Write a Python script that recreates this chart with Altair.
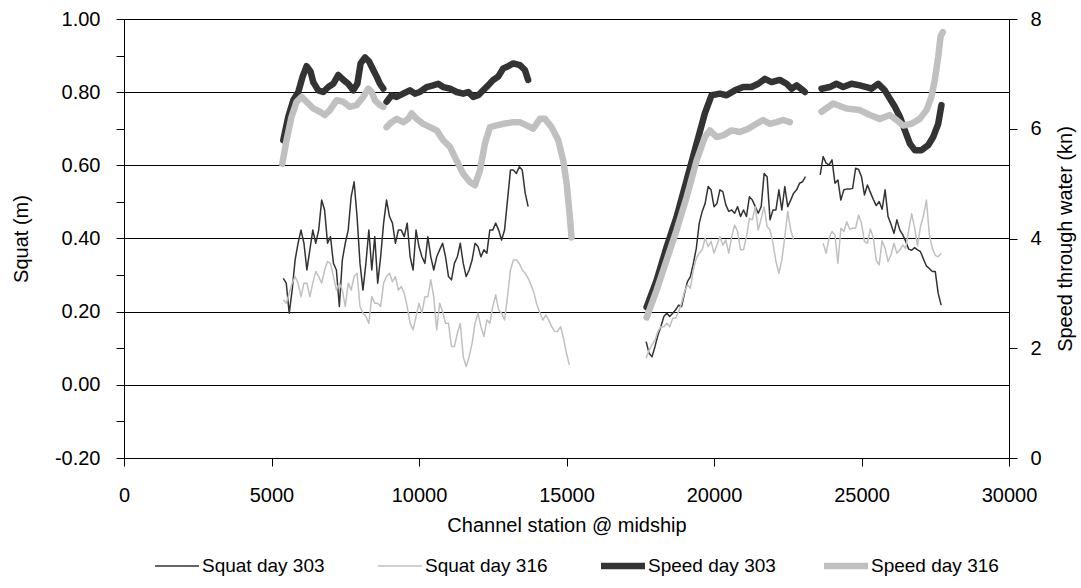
import altair as alt
import pandas as pd

FONT = "Liberation Sans"
SERIES = ["Squat day 303", "Squat day 316", "Speed day 303", "Speed day 316"]
COLORS = ["#333333", "#c0c0c0", "#333333", "#c0c0c0"]

X_TICKS = [0, 5000, 10000, 15000, 20000, 25000, 30000]
Y_TICKS = [-0.2, -0.1, 0.0, 0.1, 0.2, 0.3, 0.4, 0.5, 0.6, 0.7, 0.8, 0.9, 1.0]
SPEED_TICKS = [0, 2, 4, 6, 8]

# ---- channel stations (m) where squat was sampled ----
ST_A = [5400, 5500, 5600, 5700, 5800, 5900, 6000, 6100, 6200, 6300, 6400, 6500, 6600, 6700,
        6800, 6900, 7000, 7100, 7200, 7300, 7400, 7500, 7600, 7700, 7800, 7900, 8000, 8100,
        8200, 8300, 8400, 8500, 8600, 8700, 8800, 8900, 9000, 9100, 9200, 9300, 9400, 9500,
        9600, 9700, 9800, 9900, 10000, 10100, 10200, 10300, 10400, 10500, 10600, 10700, 10800,
        10900, 11000, 11100, 11200, 11300, 11400, 11500, 11600, 11700, 11800, 11900, 12000,
        12100, 12200, 12300, 12400, 12500, 12600, 12700, 12800, 12900, 13000, 13100, 13200,
        13300, 13400, 13500, 13600, 13700, 13800, 13900, 14000, 14100, 14200, 14300, 14400,
        14500, 14600, 14700, 14800, 14900, 15000, 15100]
ST_B = [17700, 17800, 17900, 18000, 18100, 18200, 18300, 18400, 18500, 18600, 18700, 18800,
        18900, 19000, 19100, 19200, 19300, 19400, 19500, 19600, 19700, 19800, 19900, 20000,
        20100, 20200, 20300, 20400, 20500, 20600, 20700, 20800, 20900, 21000, 21100, 21200,
        21300, 21400, 21500, 21600, 21700, 21800, 21900, 22000, 22100, 22200, 22300, 22400,
        22500, 22600, 22700, 22800, 22900, 23000, 23100]
ST_C = [23600, 23700, 23800, 23900, 24000, 24100, 24200, 24300, 24400, 24500, 24600, 24700,
        24800, 24900, 25000, 25100, 25200, 25300, 25400, 25500, 25600, 25700, 25800, 25900,
        26000, 26100, 26200, 26300, 26400, 26500, 26600, 26700, 26800, 26900, 27000, 27100,
        27200, 27300, 27400, 27500, 27600, 27700]

# ---- squat day 303 (m) ----
SQ303_A = [0.291, 0.278, 0.196, 0.259, 0.341, 0.387, 0.423, 0.387, 0.314, 0.369,
           0.423, 0.387, 0.423, 0.505, 0.478, 0.387, 0.405, 0.332, 0.314, 0.214,
           0.341, 0.387, 0.423, 0.514, 0.555, 0.460, 0.332, 0.259, 0.332, 0.423,
           0.314, 0.405, 0.278, 0.350, 0.442, 0.505, 0.460, 0.442, 0.387, 0.423,
           0.423, 0.405, 0.442, 0.350, 0.314, 0.423, 0.378, 0.350, 0.332, 0.405,
           0.350, 0.314, 0.350, 0.369, 0.387, 0.350, 0.296, 0.287, 0.332, 0.350,
           0.387, 0.332, 0.296, 0.314, 0.341, 0.387, 0.378, 0.350, 0.369, 0.360,
           0.423, 0.423, 0.442, 0.423, 0.396, 0.423, 0.505, 0.587, 0.587, 0.578,
           0.596, 0.587, 0.524, 0.487]
SQ303_B = [0.118, 0.086, 0.077, 0.105, 0.136, 0.159, 0.187, 0.196, 0.187, 0.196,
           0.205, 0.218, 0.214, 0.250, 0.282, 0.296, 0.332, 0.373, 0.442, 0.474,
           0.496, 0.542, 0.533, 0.487, 0.496, 0.533, 0.528, 0.492, 0.474, 0.478,
           0.469, 0.487, 0.460, 0.478, 0.460, 0.514, 0.505, 0.487, 0.469, 0.487,
           0.578, 0.569, 0.451, 0.478, 0.478, 0.533, 0.478, 0.542, 0.487, 0.505,
           0.524, 0.533, 0.551, 0.555, 0.569]
SQ303_C = [0.574, 0.624, 0.606, 0.601, 0.615, 0.551, 0.560, 0.505, 0.533, 0.535,
           0.535, 0.537, 0.592, 0.589, 0.569, 0.519, 0.546, 0.526, 0.507, 0.490,
           0.501, 0.480, 0.533, 0.460, 0.439, 0.414, 0.451, 0.423, 0.410, 0.392,
           0.371, 0.368, 0.375, 0.369, 0.364, 0.344, 0.325, 0.318, 0.310, 0.310,
           0.250, 0.218]

# ---- squat day 316 (m) ----
SQ316_A = [0.232, 0.223, 0.250, 0.278, 0.296, 0.278, 0.241, 0.278, 0.278, 0.241,
           0.278, 0.310, 0.296, 0.278, 0.314, 0.337, 0.332, 0.296, 0.259, 0.278,
           0.259, 0.214, 0.278, 0.259, 0.296, 0.305, 0.214, 0.196, 0.187, 0.168,
           0.241, 0.223, 0.223, 0.214, 0.278, 0.296, 0.305, 0.282, 0.296, 0.259,
           0.269, 0.250, 0.214, 0.168, 0.150, 0.187, 0.223, 0.196, 0.241, 0.241,
           0.287, 0.241, 0.150, 0.223, 0.200, 0.168, 0.168, 0.105, 0.105, 0.141,
           0.168, 0.077, 0.050, 0.077, 0.114, 0.168, 0.196, 0.159, 0.132, 0.177,
           0.168, 0.214, 0.246, 0.205, 0.196, 0.177, 0.241, 0.314, 0.341, 0.341,
           0.332, 0.314, 0.305, 0.291, 0.273, 0.250, 0.218, 0.196, 0.177, 0.191,
           0.177, 0.159, 0.146, 0.146, 0.159, 0.127, 0.086, 0.054]
SQ316_B = [0.073, 0.095, 0.109, 0.123, 0.146, 0.159, 0.159, 0.168, 0.159, 0.182,
           0.182, 0.200, 0.223, 0.255, 0.273, 0.264, 0.314, 0.346, 0.360, 0.369,
           0.401, 0.378, 0.392, 0.360, 0.382, 0.405, 0.382, 0.396, 0.360, 0.405,
           0.437, 0.419, 0.369, 0.369, 0.405, 0.455, 0.451, 0.487, 0.423, 0.455,
           0.487, 0.433, 0.423, 0.387, 0.337, 0.305, 0.341, 0.405, 0.474, 0.423,
           0.396]
SQ316_C = [0.387, 0.360, 0.401, 0.419, 0.410, 0.332, 0.428, 0.419, 0.446, 0.425,
           0.428, 0.428, 0.464, 0.442, 0.392, 0.387, 0.426, 0.403, 0.341, 0.328,
           0.394, 0.373, 0.337, 0.355, 0.387, 0.360, 0.369, 0.382, 0.373, 0.423,
           0.468, 0.429, 0.380, 0.433, 0.462, 0.505, 0.411, 0.373, 0.354, 0.350,
           0.360]

# ---- speed through water (kn) ----
SP303_A_X = [5400, 5570, 5740, 5910, 6055, 6190, 6325, 6415, 6585, 6755, 6925, 7095, 7265,
             7435, 7600, 7770, 7910, 8020, 8170, 8315, 8450, 8565, 8675, 8790]
SP303_A_Y = [5.79, 6.22, 6.52, 6.67, 6.95, 7.14, 7.04, 6.85, 6.70, 6.67, 6.76, 6.82, 6.98,
             6.89, 6.82, 6.70, 6.82, 7.19, 7.30, 7.22, 7.07, 6.95, 6.82, 6.73]
SP303_B_X = [8900, 9070, 9240, 9465, 9690, 9860, 10030, 10260, 10480, 10650, 10820, 11050,
             11275, 11500, 11670, 11840, 12010, 12175, 12345, 12515, 12685, 12855, 13025,
             13195, 13420, 13590, 13700]
SP303_B_Y = [6.49, 6.61, 6.58, 6.64, 6.70, 6.64, 6.67, 6.76, 6.79, 6.82, 6.76, 6.73,
             6.67, 6.64, 6.67, 6.58, 6.61, 6.70, 6.79, 6.89, 6.95, 7.10, 7.14,
             7.19, 7.16, 7.07, 6.89]
SP303_C_X = [17715, 18050, 18390, 18730, 19070, 19410, 19690, 19915, 20200, 20425, 20710,
             20990, 21270, 21500, 21725, 21950, 22230, 22460, 22630, 22800, 23020, 23080]
SP303_C_Y = [2.75, 3.23, 3.84, 4.39, 5.06, 5.73, 6.28, 6.61, 6.64, 6.61, 6.70,
             6.76, 6.76, 6.82, 6.91, 6.85, 6.89, 6.82, 6.73, 6.79, 6.70, 6.67]
SP303_D_X = [23645, 23925, 24150, 24380, 24660, 24945, 25170, 25340, 25565, 25790, 25960,
             26130, 26300, 26470, 26640, 26805, 27035, 27260, 27430, 27600, 27710]
SP303_D_Y = [6.73, 6.76, 6.82, 6.76, 6.82, 6.79, 6.76, 6.73, 6.82, 6.70, 6.55,
             6.40, 6.22, 5.97, 5.73, 5.61, 5.61, 5.70, 5.85, 6.09, 6.43]

SP316_A_X = [5365, 5510, 5680, 5850, 6020, 6190, 6415, 6640, 6810, 6980, 7210, 7435, 7660,
             7885, 8110, 8280, 8395, 8505, 8675, 8790]
SP316_A_Y = [5.36, 5.79, 6.22, 6.49, 6.58, 6.49, 6.37, 6.31, 6.25, 6.34, 6.52, 6.49, 6.40,
             6.43, 6.58, 6.73, 6.67, 6.52, 6.43, 6.40]
SP316_B_X = [8900, 9070, 9240, 9465, 9635, 9750, 9920, 10145, 10370, 10600, 10820, 11050,
             11275, 11500, 11725, 11895, 12065, 12235, 12405, 12630, 12855, 13195, 13420,
             13645, 13870, 14100, 14270, 14495, 14720, 14890, 15005, 15115, 15170]
SP316_B_Y = [6.03, 6.12, 6.18, 6.12, 6.18, 6.28, 6.18, 6.09, 6.03, 5.97, 5.79, 5.67,
             5.42, 5.18, 5.03, 4.97, 5.24, 5.73, 6.03, 6.06, 6.09, 6.12, 6.12,
             6.06, 6.00, 6.18, 6.18, 6.03, 5.79, 5.42, 5.00, 4.39, 4.02]
SP316_C_X = [17715, 18050, 18390, 18730, 19070, 19410, 19690, 19860, 20085, 20310, 20595,
             20875, 21160, 21440, 21665, 21895, 22120, 22345, 22570]
SP316_C_Y = [2.56, 3.05, 3.60, 4.15, 4.75, 5.42, 5.85, 5.97, 5.85, 5.88, 5.97,
             5.94, 6.00, 6.09, 6.16, 6.09, 6.12, 6.16, 6.12]
SP316_D_X = [23645, 24040, 24490, 24945, 25280, 25620, 25960, 26185, 26410, 26695, 26975,
             27205, 27370, 27485, 27600, 27680, 27755]
SP316_D_Y = [6.31, 6.46, 6.37, 6.34, 6.25, 6.18, 6.25, 6.16, 6.06, 6.09, 6.18,
             6.34, 6.58, 6.89, 7.31, 7.68, 7.76]


def rows(series, seg, xs, ys):
    return [{"station": x, "val": y, "series": series, "seg": f"{series}-{seg}"}
            for x, y in zip(xs, ys)]


squat_rows = (rows("Squat day 303", "a", ST_A[:len(SQ303_A)], SQ303_A)
              + rows("Squat day 303", "b", ST_B[:len(SQ303_B)], SQ303_B)
              + rows("Squat day 303", "c", ST_C[:len(SQ303_C)], SQ303_C)
              + rows("Squat day 316", "a", ST_A[:len(SQ316_A)], SQ316_A)
              + rows("Squat day 316", "b", ST_B[:len(SQ316_B)], SQ316_B)
              + rows("Squat day 316", "c", ST_C[1:1 + len(SQ316_C)], SQ316_C))
speed_rows = (rows("Speed day 303", "a", SP303_A_X, SP303_A_Y)
              + rows("Speed day 303", "b", SP303_B_X, SP303_B_Y)
              + rows("Speed day 303", "c", SP303_C_X, SP303_C_Y)
              + rows("Speed day 303", "d", SP303_D_X, SP303_D_Y)
              + rows("Speed day 316", "a", SP316_A_X, SP316_A_Y)
              + rows("Speed day 316", "b", SP316_B_X, SP316_B_Y)
              + rows("Speed day 316", "c", SP316_C_X, SP316_C_Y)
              + rows("Speed day 316", "d", SP316_D_X, SP316_D_Y))

squat_df = pd.DataFrame(squat_rows)
speed_df = pd.DataFrame(speed_rows)

SW_EXPR = "(indexof('' + (datum.series || datum.value), 'Speed') == 0 ? 6.5 : 1.5)"
LEG_SW_EXPR = "(indexof('' + datum.value, 'Speed') == 0 ? 6.5 : 1.5)"

legend = alt.Legend(
    title=None, orient="none", legendX=30, legendY=524, direction="horizontal",
    columns=4, gridAlign="all", columnPadding=47, symbolType="stroke", symbolSize=1936,
    symbolStrokeWidth=alt.ExprRef(expr=LEG_SW_EXPR), clipHeight=46,
    labelFont=FONT, labelFontSize=19, labelColor="black", labelOffset=2, padding=0,
)

color = alt.Color("series:N", scale=alt.Scale(domain=SERIES, range=COLORS), legend=legend)

x_enc = alt.X(
    "station:Q",
    scale=alt.Scale(domain=[0, 30000], nice=False, zero=False),
    axis=alt.Axis(
        title="Channel station @ midship", values=X_TICKS, format="d", grid=False,
        tickSize=8, tickColor="black", domainColor="black", labelFlush=False,
        labelFont=FONT, labelFontSize=20, labelColor="black", labelPadding=19,
        titleFont=FONT, titleFontSize=20, titleFontWeight="normal", titleColor="black",
        titleX=442.5, titleY=73, titleBaseline="alphabetic",
    ),
)

odd_test = "abs(round(datum.value * 10)) % 2 == 1"
label_expr = ("abs(round(datum.value * 10)) % 2 == 0 ? "
              "replace(format(datum.value, '.2f'), '\u2212', '-') : ''")

squat = alt.Chart(squat_df).mark_line(
    strokeWidth=alt.ExprRef(expr=SW_EXPR), strokeJoin="round"
).encode(
    x=x_enc,
    y=alt.Y(
        "val:Q",
        scale=alt.Scale(domain=[-0.2, 1.0], nice=False, zero=False),
        axis=alt.Axis(
            title="Squat (m)", values=Y_TICKS, labelExpr=label_expr,
            grid=True, gridColor="black", gridWidth=1,
            gridOpacity={"condition": {"test": odd_test, "value": 0}, "value": 1},
            tickSize=8, tickColor="black", domainColor="black",
            labelFont=FONT, labelFontSize=20, labelColor="black", labelPadding=16,
            titleFont=FONT, titleFontSize=20, titleFontWeight="normal", titleColor="black",
            titleAngle=270, titleX=-103, titleY=219.5, titleBaseline="middle",
            titleAlign="center",
        ),
    ),
    color=color,
    detail="seg:N",
)

speed = alt.Chart(speed_df).mark_line(
    strokeWidth=alt.ExprRef(expr=SW_EXPR), strokeJoin="round", strokeCap="round"
).encode(
    x=x_enc,
    y=alt.Y(
        "val:Q",
        scale=alt.Scale(domain=[0, 8], nice=False, zero=False),
        axis=alt.Axis(
            orient="right", title="Speed through water (kn)", values=SPEED_TICKS,
            format="d", grid=False, tickSize=8, tickColor="black", domainColor="black",
            labelFont=FONT, labelFontSize=20, labelColor="black", labelPadding=13,
            titleFont=FONT, titleFontSize=20, titleFontWeight="normal", titleColor="black",
            titleAngle=270, titleX=56, titleY=219.5, titleBaseline="middle",
            titleAlign="center",
        ),
    ),
    color=color,
    detail="seg:N",
)

chart = alt.layer(squat, speed).resolve_scale(y="independent").properties(
    width=885, height=439,
    autosize=alt.AutoSizeParams(type="none"),
    padding={"left": 124, "top": 19, "right": 72, "bottom": 130},
    background="white",
).configure_view(stroke="black", strokeWidth=1)

chart.save("out.html", embed_options={"renderer": "svg", "actions": False})
